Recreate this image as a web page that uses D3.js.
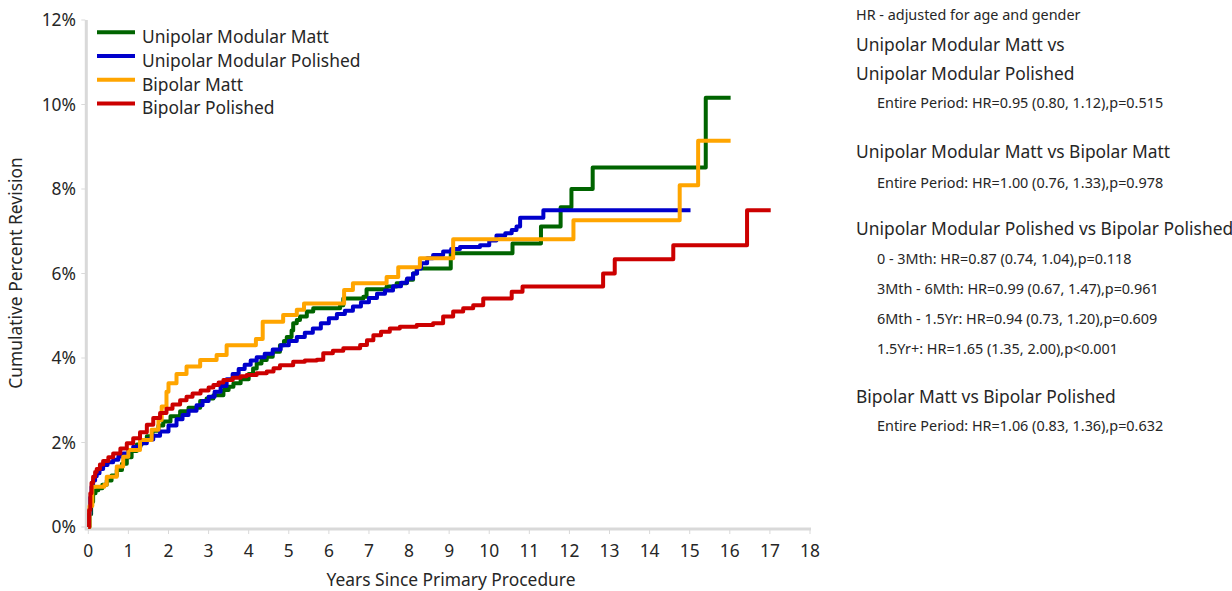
<!DOCTYPE html>
<html>
<head>
<meta charset="utf-8">
<script src="https://cdn.jsdelivr.net/npm/d3@7"></script>
<style>
  html, body { margin: 0; padding: 0; background: #fff; }
  svg { display: block; font-family: "Noto Sans", "Open Sans", sans-serif; }
</style>
</head>
<body>
<svg id="chart" width="1232" height="591"></svg>
<script>
// ---- data ----
const seriesNames = ["Unipolar Modular Matt", "Unipolar Modular Polished", "Bipolar Matt", "Bipolar Polished"];
const seriesColors = ["#006400", "#0000cc", "#ffa500", "#cc0000"];

const unipolarModularMatt = [
  [0,0],[0.03,0.3],[0.07,0.6],[0.12,0.8],[0.18,0.87],[0.25,0.92],[0.35,1.0],[0.46,1.1],[0.58,1.22],
  [0.71,1.35],[0.84,1.5],[0.96,1.65],[1.08,1.8],[1.21,1.95],[1.33,2.05],[1.46,2.15],[1.6,2.28],[1.75,2.4],
  [1.87,2.5],[2.05,2.62],[2.29,2.74],[2.5,2.82],[2.79,2.98],[2.95,3.04],[3.12,3.12],[3.37,3.24],[3.5,3.32],
  [3.62,3.4],[3.8,3.5],[4.0,3.62],[4.11,3.75],[4.2,3.87],[4.32,3.95],[4.45,4.03],[4.6,4.15],[4.78,4.3],
  [4.88,4.4],[4.95,4.5],[5.07,4.65],[5.11,4.82],[5.2,4.9],[5.28,4.98],[5.45,5.1],[5.61,5.18],[6.28,5.25],
  [6.36,5.41],[6.86,5.45],[6.94,5.63],[7.44,5.69],[7.69,5.77],[7.94,5.85],[8.1,6.0],[8.19,6.12],[9.04,6.48],
  [10.58,6.71],[11.29,7.11],[11.78,7.57],[12.05,8.0],[12.58,8.51],[15.4,10.16],[16.02,10.16]
];
const unipolarModularPolished = [
  [0,0],[0.02,0.3],[0.05,0.7],[0.08,0.95],[0.12,1.1],[0.17,1.2],[0.21,1.27],[0.28,1.37],[0.37,1.47],
  [0.48,1.53],[0.62,1.59],[0.75,1.67],[0.87,1.74],[1.0,1.82],[1.12,1.9],[1.3,1.98],[1.46,2.07],[1.62,2.16],
  [1.79,2.26],[2.0,2.4],[2.2,2.55],[2.35,2.65],[2.5,2.75],[2.7,2.88],[2.85,2.98],[3.0,3.08],[3.15,3.2],
  [3.3,3.34],[3.45,3.5],[3.6,3.62],[3.75,3.74],[3.9,3.84],[4.05,3.94],[4.2,4.02],[4.4,4.1],[4.6,4.2],
  [4.8,4.3],[5.0,4.4],[5.2,4.5],[5.4,4.6],[5.6,4.7],[5.8,4.82],[6.0,4.94],[6.2,5.04],[6.4,5.12],[6.6,5.22],
  [6.8,5.32],[7.0,5.42],[7.2,5.52],[7.4,5.6],[7.6,5.7],[7.8,5.78],[7.95,5.88],[8.1,6.0],[8.2,6.12],
  [8.3,6.24],[8.45,6.36],[8.6,6.44],[8.85,6.52],[9.05,6.58],[9.27,6.63],[9.77,6.67],[10.0,6.78],[10.18,6.9],
  [10.4,6.95],[10.56,7.03],[10.68,7.11],[10.77,7.32],[11.35,7.5],[15.02,7.5]
];
const bipolarMatt = [
  [0,0],[0.03,0.5],[0.1,0.95],[0.4,1.0],[0.46,1.19],[0.71,1.43],[0.87,1.66],[1.0,1.82],[1.29,2.06],
  [1.58,2.3],[1.75,2.53],[1.83,2.85],[1.95,3.2],[2.0,3.4],[2.2,3.62],[2.45,3.8],[2.79,3.95],[3.2,4.07],
  [3.45,4.3],[4.18,4.45],[4.35,4.86],[4.86,5.02],[5.2,5.14],[5.38,5.29],[6.38,5.61],[6.6,5.77],[7.44,5.92],
  [7.73,6.15],[8.27,6.36],[9.1,6.81],[12.1,7.26],[14.75,8.09],[15.21,9.14],[16.02,9.14]
];
const bipolarPolished = [
  [0,0],[0.02,0.4],[0.05,0.8],[0.08,1.05],[0.12,1.19],[0.17,1.3],[0.21,1.37],[0.29,1.48],[0.37,1.56],
  [0.5,1.65],[0.62,1.74],[0.8,1.86],[0.96,1.98],[1.12,2.1],[1.29,2.24],[1.46,2.42],[1.62,2.58],[1.79,2.7],
  [1.95,2.8],[2.1,2.9],[2.29,3.0],[2.45,3.08],[2.6,3.16],[2.8,3.23],[3.0,3.3],[3.12,3.36],[3.25,3.42],
  [3.37,3.48],[3.6,3.53],[3.8,3.57],[3.95,3.6],[4.2,3.64],[4.45,3.68],[4.62,3.76],[4.78,3.83],[5.11,3.91],
  [5.4,3.94],[5.7,3.96],[5.86,4.11],[6.1,4.17],[6.36,4.23],[6.78,4.31],[6.95,4.42],[7.11,4.54],[7.3,4.62],
  [7.52,4.7],[7.77,4.74],[8.19,4.78],[8.6,4.82],[8.85,4.98],[9.1,5.1],[9.35,5.18],[9.6,5.25],[9.85,5.41],
  [10.56,5.57],[10.83,5.69],[12.84,6.0],[13.13,6.34],[14.59,6.67],[16.43,7.5],[17.02,7.5]
];
const seriesData = [unipolarModularMatt, unipolarModularPolished, bipolarMatt, bipolarPolished];

const xTicks = [0,1,2,3,4,5,6,7,8,9,10,11,12,13,14,15,16,17,18];
const yTicks = [0,2,4,6,8,10,12];
const xTitle = "Years Since Primary Procedure";
const yTitle = "Cumulative Percent Revision";

const hrNote = "HR - adjusted for age and gender";
const hrLines = [
  { text: "Unipolar Modular Matt vs", kind: "head" },
  { text: "Unipolar Modular Polished", kind: "head" },
  { text: "Entire Period: HR=0.95 (0.80, 1.12),p=0.515", kind: "sub" },
  { text: "Unipolar Modular Matt vs Bipolar Matt", kind: "head" },
  { text: "Entire Period: HR=1.00 (0.76, 1.33),p=0.978", kind: "sub" },
  { text: "Unipolar Modular Polished vs Bipolar Polished", kind: "head" },
  { text: "0 - 3Mth: HR=0.87 (0.74, 1.04),p=0.118", kind: "sub" },
  { text: "3Mth - 6Mth: HR=0.99 (0.67, 1.47),p=0.961", kind: "sub" },
  { text: "6Mth - 1.5Yr: HR=0.94 (0.73, 1.20),p=0.609", kind: "sub" },
  { text: "1.5Yr+: HR=1.65 (1.35, 2.00),p<0.001", kind: "sub" },
  { text: "Bipolar Matt vs Bipolar Polished", kind: "head" },
  { text: "Entire Period: HR=1.06 (0.83, 1.36),p=0.632", kind: "sub" }
];
const hrBaselines = [51, 80, 108, 158, 188, 235, 264, 294, 324, 354, 403, 431];

// ---- drawing ----
const svg = d3.select("#chart");
const x = d3.scaleLinear().domain([0, 18]).range([88.3, 810]);
const y = d3.scaleLinear().domain([0, 12]).range([527, 20]);
const axisColor = "#d9d9d9";
const textColor = "#262626";
const bigFont = 17.4, smallFont = 14.4;

// axes lines
svg.append("line").attr("x1", x(0) - 2).attr("x2", x(0) - 2).attr("y1", y(12)).attr("y2", y(0) + 3)
  .attr("stroke", axisColor).attr("stroke-width", 3);
svg.append("line").attr("x1", x(0) - 3.5).attr("x2", x(18) + 1).attr("y1", y(0) + 2).attr("y2", y(0) + 2)
  .attr("stroke", axisColor).attr("stroke-width", 3);

// y ticks
const yg = svg.append("g");
yTicks.forEach(t => {
  yg.append("line").attr("x1", x(0) - 7).attr("x2", x(0) - 3).attr("y1", y(t)).attr("y2", y(t))
    .attr("stroke", axisColor).attr("stroke-width", 1);
  yg.append("text").attr("x", 76).attr("y", y(t)).attr("dy", "0.35em").attr("text-anchor", "end")
    .attr("font-size", bigFont).attr("fill", textColor).text(t + "%");
});
// x ticks
const xg = svg.append("g");
xTicks.forEach(t => {
  xg.append("line").attr("x1", x(t)).attr("x2", x(t)).attr("y1", y(0) + 3).attr("y2", y(0) + 7)
    .attr("stroke", axisColor).attr("stroke-width", 1);
  xg.append("text").attr("x", x(t)).attr("y", 557).attr("text-anchor", "middle")
    .attr("font-size", bigFont).attr("fill", textColor).text(t);
});
svg.append("text").attr("x", 451).attr("y", 586).attr("text-anchor", "middle")
  .attr("font-size", bigFont).attr("fill", textColor).text(xTitle);
svg.append("text").attr("transform", "translate(22,273) rotate(-90)").attr("text-anchor", "middle")
  .attr("font-size", bigFont).attr("fill", textColor).text(yTitle);

// lines
const line = d3.line().x(d => x(d[0])).y(d => y(d[1])).curve(d3.curveStepAfter);
seriesData.forEach((data, i) => {
  svg.append("path").datum(data).attr("d", line).attr("fill", "none")
    .attr("stroke", seriesColors[i]).attr("stroke-width", 4).attr("stroke-linejoin", "round");
});

// legend
seriesNames.forEach((name, i) => {
  const ly = 32.3 + i * 23.7;
  svg.append("line").attr("x1", 97).attr("x2", 135).attr("y1", ly).attr("y2", ly)
    .attr("stroke", seriesColors[i]).attr("stroke-width", 4);
  svg.append("text").attr("x", 142).attr("y", ly + 11).attr("font-size", bigFont).attr("fill", textColor).text(name);
});

// HR text
svg.append("text").attr("x", 856).attr("y", 20).attr("font-size", smallFont).attr("fill", textColor).text(hrNote);
hrLines.forEach((l, i) => {
  svg.append("text").attr("x", l.kind === "head" ? 856 : 877).attr("y", hrBaselines[i])
    .attr("font-size", l.kind === "head" ? bigFont : smallFont).attr("fill", textColor).text(l.text);
});
</script>
</body>
</html>
